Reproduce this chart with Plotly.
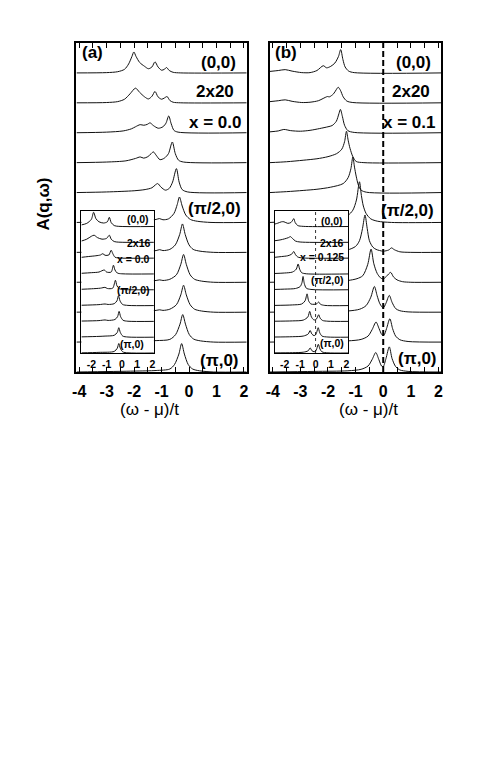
import plotly.graph_objects as go

PAGE_W, PAGE_H = 491, 763
BODY = 8  # default page margin around the plot div
W, H = PAGE_W - 2 * BODY, PAGE_H - 2 * BODY

# ---------------- data (x = (w-mu)/t, y = spectral weight in row units) ----------------
# Panel (a) main, 2x20, x = 0.0 : rows from (0,0) [top] to (pi,0) [bottom]
a0 = [(-4.1,0.0),(-3.0,0.01),(-2.6,0.04),(-2.35,0.12),(-2.2,0.3),(-2.08,0.55),(-2.01,0.7),(-1.93,0.55),(-1.8,0.35),(-1.62,0.22),(-1.48,0.14),(-1.35,0.2),(-1.24,0.37),(-1.13,0.2),(-1.0,0.09),(-0.9,0.12),(-0.82,0.18),(-0.72,0.08),(-0.58,0.02),(-0.3,0.0),(2.1,0.0)]
a1 = [(-4.1,0.0),(-3.0,0.01),(-2.6,0.04),(-2.35,0.12),(-2.15,0.3),(-1.95,0.49),(-1.8,0.35),(-1.62,0.2),(-1.48,0.13),(-1.35,0.22),(-1.24,0.38),(-1.13,0.2),(-1.0,0.12),(-0.9,0.16),(-0.8,0.21),(-0.7,0.08),(-0.58,0.02),(-0.3,0.0),(2.1,0.0)]
a2 = [(-4.1,0.0),(-3.0,0.02),(-2.4,0.06),(-2.1,0.13),(-1.95,0.2),(-1.78,0.27),(-1.65,0.25),(-1.52,0.28),(-1.42,0.33),(-1.3,0.24),(-1.12,0.15),(-0.95,0.2),(-0.84,0.32),(-0.74,0.56),(-0.65,0.3),(-0.55,0.08),(-0.4,0.02),(2.1,0.0)]
a3 = [(-4.1,0.0),(-3.0,0.02),(-2.3,0.06),(-1.95,0.14),(-1.78,0.19),(-1.65,0.15),(-1.5,0.2),(-1.38,0.3),(-1.3,0.36),(-1.2,0.25),(-1.06,0.1),(-0.9,0.15),(-0.75,0.3),(-0.61,0.69),(-0.5,0.3),(-0.38,0.08),(-0.2,0.02),(2.1,0.0)]
a4 = [(-4.1,0.0),(-3.0,0.02),(-2.0,0.06),(-1.6,0.1),(-1.35,0.16),(-1.22,0.26),(-1.14,0.3),(-1.02,0.18),(-0.86,0.08),(-0.72,0.14),(-0.6,0.35),(-0.46,0.8),(-0.36,0.35),(-0.25,0.1),(-0.05,0.02),(2.1,0.0)]
a5 = [(-4.1,0.0),(-3.0,0.02),(-2.0,0.05),(-1.5,0.08),(-1.2,0.1),(-1.08,0.13),(-0.95,0.09),(-0.75,0.12),(-0.55,0.3),(-0.43,0.6),(-0.35,0.85),(-0.25,0.55),(-0.12,0.25),(0.05,0.1),(0.3,0.04),(0.8,0.0),(2.1,0.0)]
a6 = [(-4.1,0.0),(-2.0,0.03),(-1.2,0.06),(-1.07,0.09),(-0.95,0.06),(-0.7,0.1),(-0.5,0.25),(-0.34,0.6),(-0.24,0.95),(-0.14,0.6),(0.0,0.25),(0.15,0.1),(0.4,0.04),(0.9,0.0),(2.1,0.0)]
a7 = [(-4.1,0.0),(-2.0,0.03),(-1.2,0.06),(-1.07,0.08),(-0.95,0.06),(-0.7,0.1),(-0.46,0.25),(-0.3,0.6),(-0.2,0.93),(-0.1,0.6),(0.04,0.25),(0.2,0.1),(0.45,0.04),(0.9,0.0),(2.1,0.0)]
a8 = [(-4.1,0.0),(-2.0,0.03),(-1.2,0.06),(-1.07,0.08),(-0.95,0.06),(-0.7,0.1),(-0.46,0.25),(-0.3,0.58),(-0.2,0.9),(-0.1,0.58),(0.04,0.25),(0.2,0.1),(0.45,0.04),(0.9,0.0),(2.1,0.0)]
a9 = [(-4.1,0.0),(-2.0,0.03),(-1.2,0.05),(-0.7,0.09),(-0.49,0.25),(-0.33,0.6),(-0.23,0.92),(-0.13,0.6),(0.01,0.25),(0.17,0.1),(0.42,0.04),(0.9,0.0),(2.1,0.0)]
a10 = [(-4.1,0.0),(-2.0,0.03),(-1.2,0.05),(-0.7,0.1),(-0.53,0.25),(-0.37,0.6),(-0.27,0.95),(-0.17,0.6),(-0.03,0.25),(0.13,0.1),(0.38,0.04),(0.9,0.0),(2.1,0.0)]

# Panel (b) main, 2x20, x = 0.1
b0 = [(-4.1,0.05),(-3.8,0.08),(-3.55,0.11),(-3.3,0.06),(-2.95,0.01),(-2.65,0.01),(-2.4,0.08),(-2.17,0.24),(-2.05,0.17),(-1.9,0.22),(-1.75,0.33),(-1.62,0.55),(-1.54,0.78),(-1.46,0.45),(-1.38,0.2),(-1.25,0.06),(-1.05,0.01),(2.1,0.0)]
b1 = [(-4.1,0.04),(-3.8,0.07),(-3.55,0.1),(-3.3,0.05),(-2.95,0.01),(-2.65,0.02),(-2.35,0.07),(-2.1,0.18),(-2.02,0.21),(-1.95,0.2),(-1.8,0.3),(-1.7,0.44),(-1.63,0.52),(-1.55,0.42),(-1.45,0.2),(-1.32,0.06),(-1.1,0.01),(2.1,0.0)]
b2 = [(-4.1,0.03),(-3.8,0.06),(-3.6,0.11),(-3.35,0.07),(-3.0,0.05),(-2.65,0.08),(-2.3,0.14),(-2.0,0.2),(-1.85,0.24),(-1.7,0.38),(-1.6,0.65),(-1.55,0.78),(-1.48,0.55),(-1.4,0.25),(-1.28,0.07),(-1.05,0.01),(2.1,0.0)]
b3 = [(-4.1,0.0),(-3.5,0.03),(-2.9,0.08),(-2.4,0.13),(-2.0,0.2),(-1.69,0.3),(-1.5,0.45),(-1.4,0.7),(-1.33,1.05),(-1.27,0.75),(-1.2,0.47),(-1.1,0.2),(-0.98,0.04),(-0.7,0.0),(2.1,0.0)]
b4 = [(-4.1,0.0),(-3.5,0.03),(-2.9,0.07),(-2.4,0.11),(-1.9,0.18),(-1.45,0.3),(-1.27,0.5),(-1.17,0.8),(-1.1,1.19),(-1.04,0.85),(-0.98,0.55),(-0.9,0.25),(-0.8,0.08),(-0.6,0.01),(2.1,0.0)]
b5 = [(-4.1,0.0),(-3.5,0.03),(-2.8,0.07),(-2.2,0.11),(-1.7,0.17),(-1.28,0.24),(-1.1,0.41),(-0.97,0.75),(-0.86,1.36),(-0.79,0.9),(-0.72,0.55),(-0.62,0.3),(-0.45,0.12),(-0.2,0.04),(0.3,0.0),(2.1,0.0)]
b6 = [(-4.1,0.0),(-3.0,0.03),(-2.0,0.05),(-1.3,0.08),(-1.0,0.2),(-0.86,0.39),(-0.75,0.8),(-0.66,1.25),(-0.58,0.8),(-0.5,0.39),(-0.38,0.18),(-0.26,0.1),(0.0,0.04),(0.2,0.08),(0.3,0.15),(0.4,0.09),(0.6,0.02),(1.0,0.0),(2.1,0.0)]
b7 = [(-4.1,0.0),(-3.0,0.02),(-2.0,0.04),(-1.28,0.06),(-0.95,0.12),(-0.74,0.22),(-0.56,0.6),(-0.44,1.11),(-0.34,0.62),(-0.22,0.3),(-0.1,0.15),(0.0,0.11),(0.12,0.2),(0.27,0.33),(0.37,0.18),(0.5,0.08),(0.7,0.02),(1.0,0.0),(2.1,0.0)]
b8 = [(-4.1,0.0),(-2.5,0.02),(-1.28,0.04),(-0.85,0.1),(-0.62,0.22),(-0.45,0.5),(-0.32,0.86),(-0.22,0.55),(-0.12,0.28),(0.0,0.14),(0.1,0.3),(0.22,0.56),(0.32,0.33),(0.45,0.12),(0.6,0.05),(0.9,0.01),(2.1,0.0)]
b9 = [(-4.1,0.0),(-2.5,0.02),(-1.28,0.04),(-0.8,0.09),(-0.55,0.2),(-0.4,0.42),(-0.26,0.67),(-0.15,0.45),(-0.05,0.25),(0.02,0.22),(0.12,0.45),(0.24,0.78),(0.34,0.45),(0.45,0.2),(0.6,0.08),(0.9,0.02),(2.1,0.0)]
b10 = [(-4.1,0.0),(-2.5,0.02),(-1.28,0.04),(-0.8,0.09),(-0.55,0.2),(-0.4,0.42),(-0.27,0.65),(-0.16,0.42),(-0.06,0.2),(0.0,0.18),(0.1,0.45),(0.22,0.84),(0.32,0.45),(0.45,0.18),(0.6,0.07),(0.9,0.02),(2.1,0.0)]

# Inset of (a), 2x16, x = 0.0
ia0 = [(-2.65,0.1),(-2.3,0.2),(-2.0,0.45),(-1.85,0.9),(-1.7,0.5),(-1.5,0.3),(-1.2,0.22),(-0.95,0.3),(-0.82,0.58),(-0.7,0.25),(-0.5,0.06),(-0.2,0.01),(2.1,0.0)]
ia1 = [(-2.65,0.08),(-2.3,0.2),(-2.0,0.38),(-1.82,0.45),(-1.6,0.3),(-1.3,0.2),(-1.0,0.25),(-0.82,0.45),(-0.7,0.2),(-0.5,0.05),(-0.2,0.01),(2.1,0.0)]
ia2 = [(-2.65,0.05),(-2.2,0.1),(-1.7,0.15),(-1.4,0.2),(-1.25,0.28),(-1.1,0.18),(-0.85,0.2),(-0.7,0.5),(-0.6,0.3),(-0.45,0.06),(-0.2,0.01),(2.1,0.0)]
ia3 = [(-2.65,0.04),(-2.0,0.08),(-1.5,0.12),(-1.15,0.25),(-1.0,0.12),(-0.7,0.12),(-0.55,0.55),(-0.45,0.25),(-0.3,0.06),(0.0,0.01),(2.1,0.0)]
ia4 = [(-2.65,0.03),(-2.0,0.06),(-1.4,0.1),(-1.1,0.15),(-0.95,0.08),(-0.6,0.1),(-0.42,0.6),(-0.32,0.25),(-0.15,0.06),(0.2,0.01),(2.1,0.0)]
ia5 = [(-2.65,0.02),(-1.5,0.06),(-1.1,0.1),(-0.9,0.07),(-0.5,0.12),(-0.32,0.3),(-0.22,0.63),(-0.12,0.3),(0.05,0.07),(0.4,0.01),(2.1,0.0)]
ia6 = [(-2.65,0.02),(-1.5,0.05),(-1.1,0.09),(-0.9,0.06),(-0.45,0.12),(-0.28,0.3),(-0.18,0.63),(-0.08,0.3),(0.08,0.07),(0.4,0.01),(2.1,0.0)]
ia7 = [(-2.65,0.02),(-1.5,0.05),(-1.1,0.07),(-0.5,0.12),(-0.3,0.3),(-0.2,0.6),(-0.1,0.3),(0.06,0.07),(0.4,0.01),(2.1,0.0)]
ia8 = [(-2.65,0.01),(-1.5,0.04),(-0.5,0.1),(-0.3,0.3),(-0.2,0.6),(-0.1,0.3),(0.06,0.07),(0.4,0.01),(2.1,0.0)]

# Inset of (b), 2x16, x = 0.125
ib0 = [(-2.65,0.15),(-2.45,0.21),(-2.2,0.3),(-2.05,0.3),(-1.8,0.2),(-1.6,0.25),(-1.48,0.4),(-1.41,0.5),(-1.32,0.25),(-1.15,0.06),(-0.8,0.01),(2.1,0.0)]
ib1 = [(-2.65,0.1),(-2.3,0.15),(-2.0,0.22),(-1.75,0.3),(-1.63,0.36),(-1.5,0.25),(-1.3,0.08),(-1.0,0.02),(2.1,0.0)]
ib2 = [(-2.65,0.05),(-2.2,0.1),(-1.8,0.15),(-1.55,0.25),(-1.41,0.42),(-1.3,0.22),(-1.15,0.07),(-0.8,0.01),(2.1,0.0)]
ib3 = [(-2.65,0.03),(-2.0,0.06),(-1.5,0.12),(-1.25,0.3),(-1.13,0.63),(-1.03,0.3),(-0.9,0.08),(-0.6,0.01),(2.1,0.0)]
ib4 = [(-2.65,0.02),(-2.0,0.04),(-1.3,0.08),(-1.0,0.2),(-0.88,0.45),(-0.81,0.84),(-0.73,0.4),(-0.6,0.1),(-0.3,0.02),(2.1,0.0)]
ib5 = [(-2.65,0.01),(-1.5,0.04),(-0.9,0.1),(-0.68,0.3),(-0.55,0.74),(-0.45,0.3),(-0.3,0.1),(-0.1,0.08),(0.05,0.1),(0.2,0.22),(0.32,0.08),(0.6,0.01),(2.1,0.0)]
ib6 = [(-2.65,0.01),(-1.5,0.03),(-0.8,0.08),(-0.5,0.28),(-0.38,0.63),(-0.27,0.28),(-0.12,0.1),(0.0,0.1),(0.1,0.22),(0.2,0.42),(0.3,0.2),(0.45,0.06),(0.8,0.01),(2.1,0.0)]
ib7 = [(-2.65,0.01),(-1.5,0.03),(-0.8,0.07),(-0.48,0.2),(-0.35,0.42),(-0.24,0.2),(-0.1,0.1),(0.0,0.15),(0.07,0.3),(0.17,0.6),(0.27,0.28),(0.42,0.07),(0.8,0.01),(2.1,0.0)]
ib8 = [(-2.65,0.01),(-1.5,0.02),(-0.8,0.05),(-0.48,0.14),(-0.35,0.32),(-0.24,0.15),(-0.1,0.08),(0.0,0.12),(0.08,0.28),(0.18,0.55),(0.28,0.26),(0.42,0.07),(0.8,0.01),(2.1,0.0)]

panel_a_curves = [a0, a1, a2, a3, a4, a5, a6, a7, a8, a9, a10]
panel_b_curves = [b0, b1, b2, b3, b4, b5, b6, b7, b8, b9, b10]
inset_a_curves = [ia0, ia1, ia2, ia3, ia4, ia5, ia6, ia7, ia8]
inset_b_curves = [ib0, ib1, ib2, ib3, ib4, ib5, ib6, ib7, ib8]

main_tick_values = [-4, -3, -2, -1, 0, 1, 2]
inset_tick_values = [-2, -1, 0, 1, 2]
x_title = "(\u03c9 - \u03bc)/t"
y_title = "A(q,\u03c9)"
main_labels_a = ["(0,0)", "2x20", "x = 0.0", "(\u03c0/2,0)", "(\u03c0,0)"]
main_labels_b = ["(0,0)", "2x20", "x = 0.1", "(\u03c0/2,0)", "(\u03c0,0)"]
inset_labels_a = ["(0,0)", "2x16", "x = 0.0", "(\u03c0/2,0)", "(\u03c0,0)"]
inset_labels_b = ["(0,0)", "2x16", "x = 0.125", "(\u03c0/2,0)", "(\u03c0,0)"]

# ---------------- layout helpers (page pixels -> paper fractions) ----------------
def fx(p):
    return (p - BODY) / W

def fy(p):
    return 1 - (p - BODY) / H

FONT = "Liberation Sans, Arial, Helvetica, sans-serif"
fig = go.Figure()

def add_curves(curves, xa, ya, n_rows):
    for i, c in enumerate(curves):
        off = (n_rows - 1) - i
        fig.add_trace(go.Scatter(
            x=[p[0] for p in c], y=[p[1] + off for p in c],
            mode="lines", line=dict(color="#111111", width=1, shape="spline", smoothing=0.8),
            xaxis=xa, yaxis=ya, showlegend=False, hoverinfo="skip"))

add_curves(panel_a_curves, "x", "y", 11)
add_curves(panel_b_curves, "x2", "y2", 11)
add_curves(inset_a_curves, "x3", "y3", 9)
add_curves(inset_b_curves, "x4", "y4", 9)

def lab(v):
    return "<b>" + ("-" + str(-v) if v < 0 else str(v)) + "</b>"

main_vals = [v / 2 for v in range(2 * main_tick_values[0], 2 * main_tick_values[-1] + 1)]
main_text = [lab(int(v)) if float(v).is_integer() else "" for v in main_vals]

main_x = dict(range=[-4.1, 2.1], showline=True, linewidth=2, linecolor="black", mirror="ticks",
              ticks="inside", ticklen=5, tickwidth=1.3, tickcolor="black",
              tickvals=main_vals, ticktext=main_text, showgrid=False, zeroline=False,
              tickfont=dict(family=FONT, size=16, color="black"), ticklabelstandoff=4)
main_y = dict(range=[0, 11], showline=True, linewidth=2, linecolor="black", mirror=True,
              ticks="", showticklabels=False, showgrid=False, zeroline=False)
inset_x = dict(range=[-2.65, 2.1], showline=True, linewidth=1, linecolor="black", mirror=True,
               ticks="", tickvals=inset_tick_values, ticktext=[lab(v) for v in inset_tick_values],
               showgrid=False, zeroline=False, tickfont=dict(family=FONT, size=10.5, color="black"),
               ticklabelstandoff=1)
inset_y = dict(range=[0, 9], showline=True, linewidth=1, linecolor="black", mirror=True,
               ticks="", showticklabels=False, showgrid=False, zeroline=False)

ya_dom = [fy(372), fy(43)]
yi_dom = [fy(353), fy(210.7)]
fig.update_layout(
    width=W, height=H, autosize=False,
    margin=dict(l=0, r=0, t=0, b=0),
    paper_bgcolor="white", plot_bgcolor="white",
    font=dict(family=FONT, color="black"),
    xaxis=dict(main_x, domain=[fx(73.3), fx(245.7)], anchor="y"),
    yaxis=dict(main_y, domain=ya_dom, anchor="x"),
    xaxis2=dict(main_x, domain=[fx(269.3), fx(442.7)], anchor="y2"),
    yaxis2=dict(main_y, domain=ya_dom, anchor="x2"),
    xaxis3=dict(inset_x, domain=[fx(78.3), fx(151.7)], anchor="y3"),
    yaxis3=dict(inset_y, domain=yi_dom, anchor="x3"),
    xaxis4=dict(inset_x, domain=[fx(274), fx(348.3)], anchor="y4"),
    yaxis4=dict(inset_y, domain=yi_dom, anchor="x4"),
)

# reference lines at w = mu in panel (b)
fig.add_shape(type="line", xref="x2", yref="y2 domain", x0=0, x1=0, y0=0, y1=1,
              line=dict(color="black", width=2, dash="6px,3px"), layer="above")
fig.add_shape(type="line", xref="x4", yref="y4 domain", x0=0, x1=0, y0=0, y1=1,
              line=dict(color="black", width=0.8, dash="dot"), layer="above")

def text(t, xp, yp, size, anchor="right", bold=True, angle=0):
    fig.add_annotation(text=("<b>%s</b>" % t) if bold else t, x=fx(xp), y=fy(yp),
                       xref="paper", yref="paper", xanchor=anchor, yanchor="middle",
                       showarrow=False, textangle=angle,
                       font=dict(family=FONT, size=size, color="black"))

for t, xp, yp in zip(main_labels_a, [237, 235, 242, 242, 240], [62, 92, 122, 208, 360]):
    text(t, xp, yp, 17)
for t, xp, yp in zip(main_labels_b, [434, 433, 438, 437, 440], [62, 92, 122, 210, 358]):
    text(t, xp, yp, 17)
for t, xp, yp in zip(inset_labels_a, [149, 150.5, 150, 150, 144], [219, 243, 259, 290, 344]):
    text(t, xp, yp, 10.5)
for t, xp, yp in zip(inset_labels_b, [345, 346, 346.5, 346.5, 346], [221, 243, 257, 280, 343]):
    text(t, xp, yp, 10.5)

text("(a)", 77, 53, 17, anchor="left")
text("(b)", 272, 53, 17, anchor="left")
text(x_title, 147, 409, 17, anchor="center", bold=False)
text(x_title, 369, 409, 17, anchor="center", bold=False)
text(y_title, 40, 204, 17, anchor="center", angle=-90)

fig.write_html("out.html")
